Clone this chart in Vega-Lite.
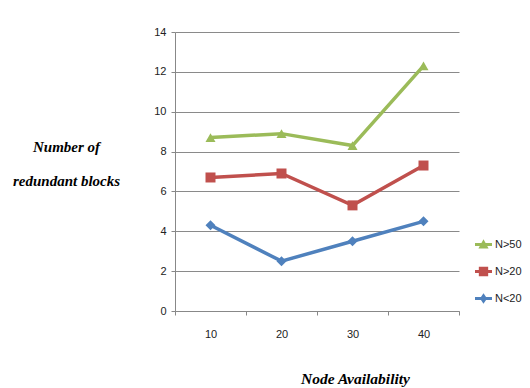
{
  "$schema": "https://vega.github.io/schema/vega-lite/v6.json",
  "width": 284,
  "height": 279,
  "autosize": {"type": "none"},
  "padding": {"left": 175, "top": 32, "right": 71, "bottom": 77},
  "background": "white",
  "data": {"values": [
    {"avail": "10", "series": "N>50", "value": 8.7},
    {"avail": "20", "series": "N>50", "value": 8.9},
    {"avail": "30", "series": "N>50", "value": 8.3},
    {"avail": "40", "series": "N>50", "value": 12.3},
    {"avail": "10", "series": "N>20", "value": 6.7},
    {"avail": "20", "series": "N>20", "value": 6.9},
    {"avail": "30", "series": "N>20", "value": 5.3},
    {"avail": "40", "series": "N>20", "value": 7.3},
    {"avail": "10", "series": "N<20", "value": 4.3},
    {"avail": "20", "series": "N<20", "value": 2.5},
    {"avail": "30", "series": "N<20", "value": 3.5},
    {"avail": "40", "series": "N<20", "value": 4.5}
  ]},
  "encoding": {
    "x": {
      "field": "avail", "type": "ordinal",
      "scale": {"paddingInner": 0, "paddingOuter": 0},
      "axis": {
        "title": "Node Availability", "labelAngle": 0, "tickBand": "extent",
        "grid": false, "domainColor": "#888888", "tickColor": "#888888", "tickSize": 4,
        "labelPadding": 13, "labelFont": "Liberation Sans", "labelFontSize": 11, "labelColor": "#222222",
        "titleFont": "Liberation Serif", "titleFontStyle": "italic", "titleFontWeight": "bold", "titleFontSize": 15.5,
        "titleColor": "#000000", "titleX": 180, "titleY": 67, "titleBaseline": "middle", "titleAlign": "center"
      }
    },
    "y": {
      "field": "value", "type": "quantitative",
      "scale": {"domain": [0, 14]},
      "axis": {
        "title": ["Number of", "redundant blocks"], "values": [0, 2, 4, 6, 8, 10, 12, 14],
        "grid": true, "gridColor": "#8a8a8a", "gridWidth": 1,
        "domainColor": "#888888", "tickColor": "#888888", "tickSize": 4, "labelPadding": 5,
        "labelFont": "Liberation Sans", "labelFontSize": 11, "labelColor": "#222222",
        "titleFont": "Liberation Serif", "titleFontStyle": "italic", "titleFontWeight": "bold", "titleFontSize": 15,
        "titleColor": "#000000", "titleAngle": 0, "titleAlign": "center", "titleBaseline": "middle",
        "titleLineHeight": 34, "titleX": -109, "titleY": 114
      }
    }
  },
  "layer": [
    {
      "mark": {"type": "line", "strokeWidth": 3.5},
      "encoding": {
        "color": {"field": "series", "type": "nominal",
          "scale": {"domain": ["N>50", "N>20", "N<20"], "range": ["#9bbb59", "#c0504d", "#4f81bd"]},
          "legend": null}
      }
    },
    {
      "mark": {"type": "point", "filled": true, "opacity": 1, "size": 100},
      "encoding": {
        "color": {"field": "series", "type": "nominal",
          "scale": {"domain": ["N>50", "N>20", "N<20"], "range": ["#9bbb59", "#c0504d", "#4f81bd"]},
          "legend": null},
        "shape": {"field": "series", "type": "nominal",
          "scale": {"domain": ["N>50", "N>20", "N<20"], "range": ["triangle-up", "square", "diamond"]},
          "legend": null}
      }
    },
    {
      "mark": {"type": "point", "filled": true, "size": 0, "strokeWidth": 0},
      "encoding": {
        "color": {"field": "series", "type": "nominal",
          "scale": {"domain": ["N>50", "N>20", "N<20"], "range": ["#9bbb59", "#c0504d", "#4f81bd"]},
          "legend": {
            "title": null, "orient": "none", "legendX": 300, "legendY": 204,
            "symbolSize": 289, "symbolOpacity": 1, "symbolStrokeWidth": 0,
            "rowPadding": 13, "labelFont": "Liberation Sans", "labelFontSize": 11, "labelColor": "#222222",
            "labelOffset": 3
          }},
        "shape": {"field": "series", "type": "nominal",
          "scale": {"domain": ["N>50", "N>20", "N<20"], "range": [
            "M-1,-0.18H1V0.18H-1Z M0,-0.62L0.6,0.48H-0.6Z",
            "M-1,-0.18H1V0.18H-1Z M-0.55,-0.55H0.55V0.55H-0.55Z",
            "M-1,-0.18H1V0.18H-1Z M0,-0.62L0.42,0L0,0.62L-0.42,0Z"
          ]},
          "legend": {
            "title": null, "orient": "none", "legendX": 300, "legendY": 204,
            "symbolSize": 289, "symbolOpacity": 1, "symbolStrokeWidth": 0,
            "rowPadding": 13, "labelFont": "Liberation Sans", "labelFontSize": 11, "labelColor": "#222222",
            "labelOffset": 3
          }}
      }
    }
  ],
  "resolve": {"scale": {"color": "independent", "shape": "independent"}, "legend": {"color": "independent", "shape": "independent"}},
  "config": {"view": {"stroke": null}}
}
